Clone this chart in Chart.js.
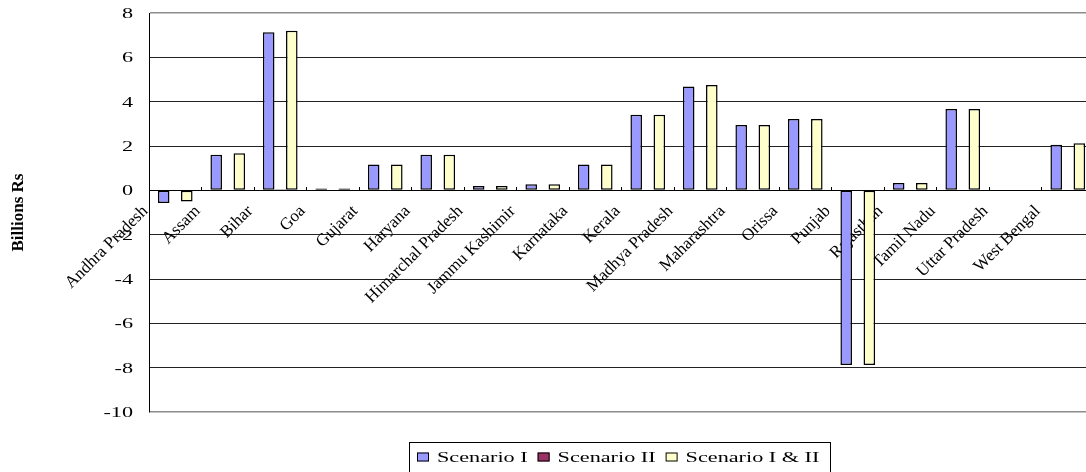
<!DOCTYPE html>
<html>
<head>
<meta charset="utf-8">
<title>Gains and losses by state, billions Rs</title>
<script src="https://cdn.jsdelivr.net/npm/chart.js@4.4.1/dist/chart.umd.min.js"></script>
<style>
    html, body { margin: 0; padding: 0; background: #fff; overflow: hidden; }
    canvas { display: block; }
</style>
</head>
<body>
<canvas id="state-chart" width="1100" height="472"></canvas>
<script>
// States along the category axis
const states = [
    'Andhra Pradesh', 'Assam', 'Bihar', 'Goa', 'Gujarat', 'Haryana',
    'Himarchal Pradesh', 'Jammu Kashimir', 'Karnataka', 'Kerala',
    'Madhya Pradesh', 'Maharashtra', 'Orissa', 'Punjab', 'Rajasthan',
    'Tamil Nadu', 'Uttar Pradesh', 'West Bengal'
];

// Billions Rs per state
const scenarioOne  = [-0.57, 1.61, 7.13, 0.08, 1.17, 1.61, 0.2, 0.27, 1.17, 3.41, 4.68, 2.95, 3.22, -7.88, 0.33, 3.67, 0, 2.06];
const scenarioTwo  = [0, 0, 0.05, 0, 0, 0, 0, 0, 0, 0, 0, 0, 0, 0, 0, 0, 0, 0];
const scenarioBoth = [-0.5, 1.67, 7.2, 0.08, 1.17, 1.61, 0.2, 0.27, 1.17, 3.41, 4.75, 2.95, 3.22, -7.88, 0.33, 3.67, 0, 2.12];

const seriesNames  = ['Scenario I', 'Scenario II', 'Scenario I & II'];
const seriesColors = ['#9999FF', '#993366', '#FFFFCC'];

// Value axis ticks
const yTicks = [8, 6, 4, 2, 0, -2, -4, -6, -8, -10];

const serif = '"Liberation Serif", "Times New Roman", serif';
Chart.defaults.font.family = serif;
Chart.defaults.color = '#000';

// Horizontal captions are drawn wide, like the old spreadsheet output
const WIDE = 1.48;

function wideText(ctx, text, x, y) {
    ctx.save();
    ctx.translate(x, y);
    ctx.scale(WIDE, 1);
    ctx.fillText(text, 0, 0);
    ctx.restore();
}

// Value axis numbers, right aligned against the axis line
const wideValueTicks = {
    id: 'wideValueTicks',
    afterDraw(chart) {
        const { ctx } = chart;
        const scale = chart.scales.y;
        ctx.save();
        ctx.font = '15px ' + serif;
        ctx.textAlign = 'right';
        ctx.textBaseline = 'middle';
        ctx.fillStyle = '#000';
        yTicks.forEach(v => wideText(ctx, String(v), scale.right - 16, scale.getPixelForValue(v) + 1));
        ctx.restore();
    }
};

// Framed legend row centred under the plot
const boxedLegend = {
    id: 'boxedLegend',
    afterDraw(chart) {
        const { ctx, chartArea } = chart;
        const items = chart.data.datasets.map(ds => ({ text: ds.label, color: ds.backgroundColor }));
        const swatchW = 12, swatchH = 9, gap = 8, spacing = 10;

        ctx.save();
        ctx.font = '15px ' + serif;
        ctx.textBaseline = 'middle';
        const widths = items.map(it => ctx.measureText(it.text).width * WIDE);
        const rowW = widths.reduce((s, w) => s + swatchW + gap + w, 0) + spacing * (items.length - 1);
        let x = Math.round((chartArea.left + chartArea.right) / 2 - rowW / 2) - 3;
        const y = Math.round(chartArea.bottom + 45);

        ctx.strokeStyle = '#000';
        ctx.lineWidth = 1;
        ctx.strokeRect(x - 8 + 0.5, y - 15 + 0.5, Math.round(rowW + 19), 40);

        items.forEach((it, i) => {
            ctx.fillStyle = it.color;
            ctx.fillRect(x, y - swatchH / 2, swatchW, swatchH);
            ctx.strokeRect(x + 0.5, y - swatchH / 2 + 0.5, swatchW - 1, swatchH - 1);
            x += swatchW + gap;
            ctx.fillStyle = '#000';
            wideText(ctx, it.text, x, y + 1);
            x += widths[i] + spacing;
        });
        ctx.restore();
    }
};

const series = [scenarioOne, scenarioTwo, scenarioBoth];

new Chart(document.getElementById('state-chart'), {
    type: 'bar',
    data: {
        labels: states,
        datasets: series.map((values, i) => ({
            label: seriesNames[i],
            data: values,
            backgroundColor: seriesColors[i],
            borderColor: '#000',
            borderWidth: 1.5,
            borderSkipped: false,
            barPercentage: 1.0,
            categoryPercentage: 0.66
        }))
    },
    options: {
        responsive: false,
        animation: false,
        devicePixelRatio: 1,
        layout: {
            padding: { left: 6, right: 6, top: 13, bottom: 60 }
        },
        scales: {
            x: {
                position: { y: 0 },
                offset: true,
                grid: {
                    offset: true,
                    drawOnChartArea: false,
                    drawTicks: true,
                    tickLength: -4,
                    color: '#000'
                },
                border: { display: true, color: '#000', width: 1 },
                ticks: {
                    autoSkip: false,
                    minRotation: 45,
                    maxRotation: 45,
                    labelOffset: -30,
                    padding: 15,
                    font: { size: 17 }
                },
                afterFit(scale) {
                    scale.paddingLeft = 0;
                    scale.paddingRight = 0;
                }
            },
            y: {
                min: yTicks[yTicks.length - 1],
                max: yTicks[0],
                afterBuildTicks(scale) {
                    scale.ticks = yTicks.map(v => ({ value: v }));
                },
                grid: {
                    drawTicks: false,
                    color: ctx => (ctx.tick && (ctx.tick.value === yTicks[0] || ctx.tick.value === yTicks[yTicks.length - 1])) ? '#8c8c8c' : '#222',
                    lineWidth: ctx => (ctx.tick && (ctx.tick.value === yTicks[0] || ctx.tick.value === yTicks[yTicks.length - 1])) ? 1.5 : 1
                },
                border: { display: true, color: '#000', width: 1 },
                ticks: { display: false },
                title: {
                    display: true,
                    text: 'Billions Rs',
                    font: { size: 17, weight: 'bold' },
                    padding: { top: 2, bottom: 0 }
                },
                afterFit(scale) {
                    scale.width = 143;
                }
            }
        },
        plugins: {
            legend: { display: false },
            tooltip: { enabled: false }
        }
    },
    plugins: [wideValueTicks, boxedLegend]
});
</script>
</body>
</html>
